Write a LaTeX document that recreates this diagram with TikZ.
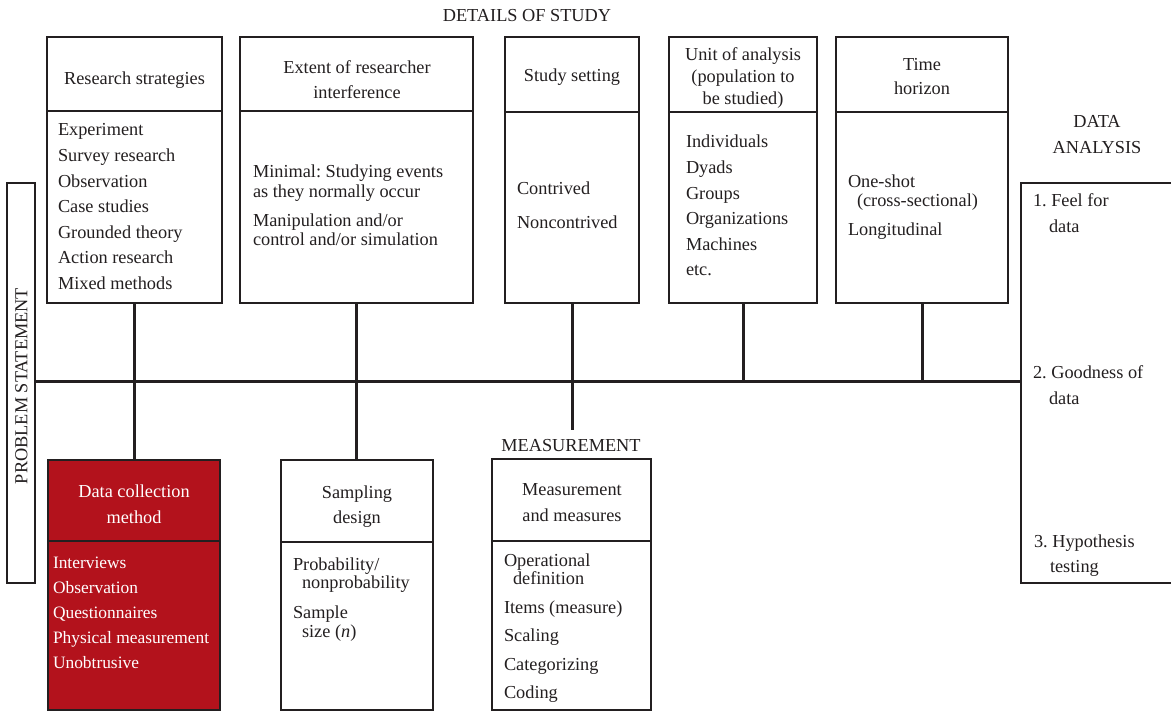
\documentclass[tikz,border=0pt]{standalone}
\usepackage{fontspec}
\setmainfont{Liberation Serif}
\definecolor{dcred}{HTML}{B3121C}
\definecolor{ink}{HTML}{231F20}
\frenchspacing
\begin{document}
\begin{tikzpicture}[x=1pt,y=-1pt,
  font=\fontsize{18.3}{25}\selectfont,
  frame/.style={draw=ink, line width=1.4pt, inner sep=0pt, outer sep=0pt, anchor=north west},
  link/.style={draw=ink, line width=3pt},
  txt/.style={anchor=base west, inner sep=0pt, outer sep=0pt, text=ink},
  ctxt/.style={anchor=base, inner sep=0pt, outer sep=0pt, text=ink},
  wtxt/.style={anchor=base west, inner sep=0pt, outer sep=0pt, text=white, font=\fontsize{17.4}{25}\selectfont},
  wctxt/.style={anchor=base, inner sep=0pt, outer sep=0pt, text=white}]
\clip (0,0) rectangle (1171,711);
\fill[white] (0,0) rectangle (1171,711);

% ---- top boxes
\node[frame, minimum width=175, minimum height=74] (rsh) at (47,37) {};
\node[frame, minimum width=175, minimum height=192] (rsb) at (47,111) {};
\node[frame, minimum width=233, minimum height=74] (exh) at (240,37) {};
\node[frame, minimum width=233, minimum height=192] (exb) at (240,111) {};
\node[frame, minimum width=134, minimum height=75] (ssh) at (505,37) {};
\node[frame, minimum width=134, minimum height=191] (ssb) at (505,112) {};
\node[frame, minimum width=148, minimum height=75] (uah) at (669,37) {};
\node[frame, minimum width=148, minimum height=191] (uab) at (669,112) {};
\node[frame, minimum width=172, minimum height=75] (thh) at (836,37) {};
\node[frame, minimum width=172, minimum height=191] (thb) at (836,112) {};

% ---- side boxes
\node[frame, minimum width=28, minimum height=400] (ps) at (7,183) {};
\node[frame, minimum width=220, minimum height=400] (da) at (1021,183) {};

% ---- bottom boxes
\node[frame, fill=dcred, minimum width=172, minimum height=81] (dch) at (48,460) {};
\node[frame, fill=dcred, minimum width=172, minimum height=169] (dcb) at (48,541) {};
\node[frame, minimum width=152, minimum height=82] (sdh) at (281,460) {};
\node[frame, minimum width=152, minimum height=168] (sdb) at (281,542) {};
\node[frame, minimum width=159, minimum height=82] (mmh) at (492,459) {};
\node[frame, minimum width=159, minimum height=169] (mmb) at (492,541) {};

% ---- connectors
\coordinate (hl) at (0,382);
\coordinate (mt) at (572,430);
\draw[link] (ps.east |- hl) -- (da.west |- hl);
\draw[link] (rsb.south) -- (rsb.south |- dch.north);
\draw[link] (exb.south) -- (exb.south |- sdh.north);
\draw[link] (ssb.south) -- (ssb.south |- mt);
\draw[link] (uab.south) -- (uab.south |- hl);
\draw[link] (thb.south) -- (thb.south |- hl);

% ---- titles
\node[ctxt] (t1) at (527,22) {DETAILS OF STUDY};
\node[ctxt] (t2) at (1097,128) {DATA};
\node[ctxt] (t3) at (1097,154) {ANALYSIS};
\node[ctxt] (t4) at (571,451) {MEASUREMENT};
\node[inner sep=0pt, text=ink, rotate=90] (t5) at (21.5,386) {PROBLEM STATEMENT};

% ---- headers
\node[ctxt] (h1) at (134.5,85) {Research strategies};
\node[ctxt] (h2a) at (357,74) {Extent of researcher};
\node[ctxt] (h2b) at (357,99) {interference};
\node[ctxt] (h3) at (572,82) {Study setting};
\node[ctxt] (h4a) at (743,61) {Unit of analysis};
\node[ctxt] (h4b) at (743,83) {(population to};
\node[ctxt] (h4c) at (743,105) {be studied)};
\node[ctxt] (h5a) at (922,71) {Time};
\node[ctxt] (h5b) at (922,95) {horizon};
\node[wctxt] (h6a) at (134,497) {Data collection};
\node[wctxt] (h6b) at (134,523) {method};
\node[ctxt] (h7a) at (357,498) {Sampling};
\node[ctxt] (h7b) at (357,523) {design};
\node[ctxt] (h8a) at (572,495) {Measurement};
\node[ctxt] (h8b) at (572,521) {and measures};

% ---- research strategies list
\foreach \t [count=\i] in {Experiment,Survey research,Observation,Case studies,Grounded theory,Action research,Mixed methods}
  \node[txt] (rs\i) at (58,{136+(\i-1)*25.6}) {\t};

% ---- extent list
\node[txt] (ex1) at (253,178) {Minimal: Studying events};
\node[txt] (ex2) at (253,198) {as they normally occur};
\node[txt] (ex3) at (253,227) {Manipulation and/or};
\node[txt] (ex4) at (253,246) {control and/or simulation};

% ---- study setting list
\node[txt] (ss1) at (517,195) {Contrived};
\node[txt] (ss2) at (517,229) {Noncontrived};

% ---- unit of analysis list
\foreach \t [count=\i] in {Individuals,Dyads,Groups,Organizations,Machines,etc.}
  \node[txt] (ua\i) at (686,{148+(\i-1)*25.6}) {\t};

% ---- time horizon list
\node[txt] (th1) at (848,188) {One-shot};
\node[txt] (th2) at (857,207) {(cross-sectional)};
\node[txt] (th3) at (848,236) {Longitudinal};

% ---- data analysis list
\node[txt] (da1) at (1033,207) {1. Feel for};
\node[txt] (da2) at (1049,233) {data};
\node[txt] (da3) at (1033,379) {2. Goodness of};
\node[txt] (da4) at (1049,405) {data};
\node[txt] (da5) at (1034,547) {3. Hypothesis};
\node[txt] (da6) at (1050,572) {testing};

% ---- data collection list
\foreach \t [count=\i] in {Interviews,Observation,Questionnaires,Physical measurement,Unobtrusive}
  \node[wtxt] (dc\i) at (53,{568+(\i-1)*25.2}) {\t};

% ---- sampling list
\node[txt] (sd1) at (293,570) {Probability/};
\node[txt] (sd2) at (302,588) {nonprobability};
\node[txt] (sd3) at (293,618) {Sample};
\node[txt] (sd4) at (302,637) {size (\textit{n})};

% ---- measurement list
\node[txt] (mm1) at (504,566) {Operational};
\node[txt] (mm2) at (513,584) {definition};
\node[txt] (mm3) at (504,613) {Items (measure)};
\node[txt] (mm4) at (504,641) {Scaling};
\node[txt] (mm5) at (504,670) {Categorizing};
\node[txt] (mm6) at (504,698) {Coding};
\end{tikzpicture}
\end{document}
